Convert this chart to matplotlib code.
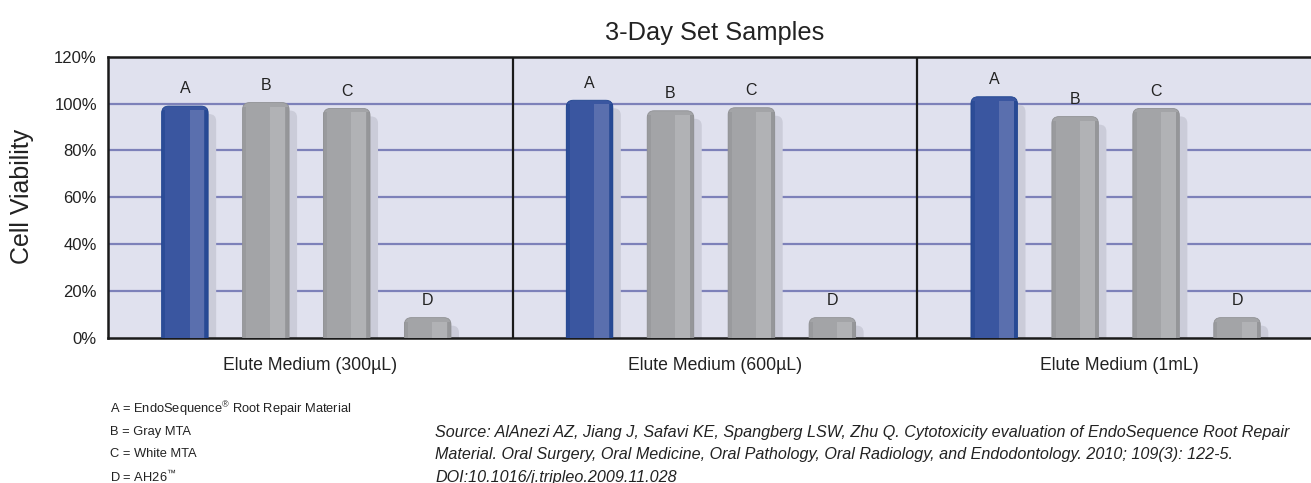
import matplotlib
matplotlib.use('Agg')
import matplotlib.pyplot as plt
from matplotlib import font_manager
from matplotlib.patches import FancyBboxPatch
import numpy as np

# Data (cell viability, %)
media = ['Elute Medium (300µL)', 'Elute Medium (600µL)', 'Elute Medium (1mL)']
materials = ['A', 'B', 'C', 'D']
medium_300 = [99.0, 100.5, 98.0, 8.5]
medium_600 = [101.5, 97.0, 98.3, 8.5]
medium_1ml = [103.0, 94.5, 98.0, 8.5]
y_ticks = [0, 20, 40, 60, 80, 100, 120]
legend_lines = ['A = EndoSequence$^{®}$ Root Repair Material', 'B = Gray MTA',
                'C = White MTA', 'D = AH26$^{™}$']
source_lines = ['Source: AlAnezi AZ, Jiang J, Safavi KE, Spangberg LSW, Zhu Q. Cytotoxicity evaluation of EndoSequence Root Repair',
                'Material. Oral Surgery, Oral Medicine, Oral Pathology, Oral Radiology, and Endodontology. 2010; 109(3): 122-5.',
                'DOI:10.1016/j.tripleo.2009.11.028']

# Fonts: condensed one if available
names = {f.name for f in font_manager.fontManager.ttflist}
if 'Liberation Sans Narrow' in names:
    narrow, k = 'Liberation Sans Narrow', 1.0
else:
    narrow, k = 'Liberation Sans', 0.82
plt.rcParams['font.family'] = ['Liberation Sans', 'DejaVu Sans']
plt.rcParams['mathtext.fontset'] = 'custom'
plt.rcParams['mathtext.rm'] = narrow

W, H = 1311, 483
fig = plt.figure(figsize=(W / 100, H / 100), dpi=100)
# plot area (px): left 108, right 1322 (runs past the edge), top 57, bottom 337.5
ax = fig.add_axes([108 / W, (H - 337.5) / H, 1214 / W, 280.5 / H])
ax.set_xlim(0, 15)
ax.set_ylim(0, 120)
ax.set_facecolor('#e0e1ee')

for y in y_ticks[1:-1]:
    ax.axhline(y, color='#7d81b9', lw=1.6, zorder=1)
for xv in [5, 10]:
    ax.axvline(xv, color='#1a1a1a', lw=1.6, zorder=5)

for side in ['top', 'left', 'bottom']:
    ax.spines[side].set_color('#1a1a1a')
    ax.spines[side].set_linewidth(1.8)
ax.spines['right'].set_visible(False)

bar_w = 0.575
px_x, px_y = 1214 / 15, 280.5 / 120
aspect = px_x / px_y
r = 7 / px_x

blue = dict(main='#3a56a0', edge='#1f448f', hi='#5a6fae')
gray = dict(main='#a3a4a7', edge='#909194', hi='#b1b2b5')

all_values = [medium_300, medium_600, medium_1ml]
for p, values in enumerate(all_values):
    x = np.arange(len(materials)) + 5 * p + 0.95
    cols = [blue, gray, gray, gray]
    bars = ax.bar(x, values, width=bar_w, color=[c['main'] for c in cols], zorder=3)
    for rect, c, lab, v in zip(bars, cols, materials, values):
        x0, w, h = rect.get_x(), rect.get_width(), rect.get_height()
        rect.set_visible(False)
        # soft shadow behind the bar
        sh = FancyBboxPatch((x0 + 8 / px_x, -5), w, h + 5 - 8 / px_y,
                            boxstyle=f'round,pad=0,rounding_size={r}',
                            mutation_aspect=aspect, fc='#cbccd9', ec='none', zorder=2)
        ax.add_patch(sh)
        body = FancyBboxPatch((x0, -5), w, h + 5,
                              boxstyle=f'round,pad=0,rounding_size={r}',
                              mutation_aspect=aspect, fc=c['main'], ec=c['edge'],
                              lw=0.6, zorder=3)
        ax.add_patch(body)
        top = h - 4 / px_y
        # lighter band on the right, darker rims
        ax.bar(x0 + 0.765 * w, top, width=0.33 * w, color=c['hi'], zorder=4)
        ax.bar(x0 + 0.96 * w, top, width=0.08 * w, color=c['edge'], alpha=0.7, zorder=4)
        ax.bar(x0 + 0.04 * w, top, width=0.08 * w, color=c['edge'], alpha=0.5, zorder=4)
        ax.annotate(lab, (x0 + w / 2, h), xytext=(0, 7), textcoords='offset points',
                    ha='center', va='bottom', fontsize=11.5, family=narrow,
                    color='#222222')

ax.set_yticks(y_ticks)
ax.set_yticklabels([f'{t}%' for t in y_ticks], fontsize=12, color='#222222')
ax.set_xticks([2.5, 7.5, 12.5])
ax.set_xticklabels(media, fontsize=12.7, family=narrow, color='#222222')
ax.tick_params(axis='both', length=0)
ax.tick_params(axis='y', pad=8)
ax.tick_params(axis='x', pad=14)

fig.text(715 / W, 1 - 33 / H, '3-Day Set Samples', ha='center', va='center',
         fontsize=18.3, color='#222222')
fig.text(22 / W, 1 - 196 / H, 'Cell Viability', ha='center', va='center',
         rotation=90, fontsize=18, color='#222222')

for i, line in enumerate(legend_lines):
    fig.text(110 / W, 1 - (409 + 22.7 * i) / H, line, ha='left', va='center',
             fontsize=9.3, family=narrow, color='#222222')
for i, line in enumerate(source_lines):
    fig.text(435 / W, 1 - (432 + 22.7 * i) / H, line, ha='left', va='center',
             fontsize=11.6, family=narrow, style='italic', color='#222222')

fig.savefig('out.png', dpi=100)
